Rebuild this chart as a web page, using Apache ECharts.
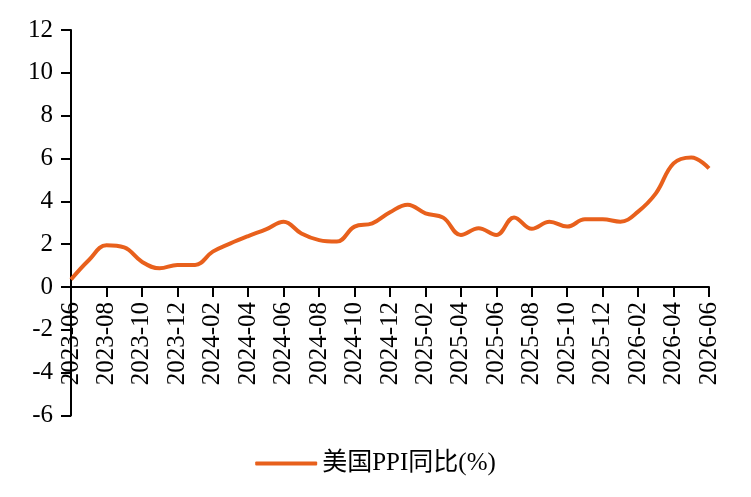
<!DOCTYPE html>
<html lang="zh">
  <head>
    <meta charset="UTF-8" />
    <title>美国PPI同比</title>
    <script src="https://cdn.jsdelivr.net/npm/echarts@6/dist/echarts.min.js"></script>
    <style>
      html,
      body {
        margin: 0;
        padding: 0;
        background: #fff;
      }
      #chart {
        width: 751px;
        height: 497px;
      }
    </style>
  </head>
  <body>
    <div id="chart"></div>
    <script>
      const months = [
        "2023-06", "2023-07", "2023-08", "2023-09", "2023-10", "2023-11", "2023-12",
        "2024-01", "2024-02", "2024-03", "2024-04", "2024-05", "2024-06", "2024-07",
        "2024-08", "2024-09", "2024-10", "2024-11", "2024-12", "2025-01", "2025-02",
        "2025-03", "2025-04", "2025-05", "2025-06", "2025-07", "2025-08", "2025-09",
        "2025-10", "2025-11", "2025-12", "2026-01", "2026-02", "2026-03", "2026-04",
        "2026-05", "2026-06",
      ];
      const ppiYoY = [
        0.35, 1.25, 1.95, 1.85, 1.18, 0.87, 1.03, 1.03, 1.65, 2.04, 2.38, 2.69, 3.05,
        2.5, 2.19, 2.12, 2.82, 2.97, 3.49, 3.84, 3.44, 3.24, 2.43, 2.74, 2.43, 3.25,
        2.72, 3.05, 2.82, 3.16, 3.16, 3.05, 3.52, 4.37, 5.77, 6.05, 5.54,
      ];
      const seriesName = "美国PPI同比(%)";

      const font = "'Liberation Serif', 'Times New Roman', 'Noto Sans CJK SC', serif";
      const chart = echarts.init(document.getElementById("chart"));

      // x 轴画在 0 线上：grid 底部 = -6，0 在上方 6/18 处
      const gridTop = 30;
      const gridBottom = 81.5;
      const plotH = 497 - gridTop - gridBottom;
      const zeroOffset = -(plotH * 6) / 18;

      const option = {
        animation: false,
        textStyle: { fontFamily: font },
        grid: { left: 71, right: 42, top: gridTop, bottom: gridBottom },
        legend: {
          bottom: 16,
          left: "center",
          icon: "roundRect",
          itemWidth: 62,
          itemHeight: 4,
          itemGap: 14,
          textStyle: { fontFamily: font, fontSize: 25, color: "#000" },
          data: [seriesName],
        },
        xAxis: {
          type: "category",
          data: months,
          boundaryGap: false,
          position: "bottom",
          offset: zeroOffset,
          axisLine: { onZero: false, lineStyle: { color: "#000", width: 2 } },
          axisTick: { interval: 1, length: 10, lineStyle: { color: "#000", width: 2 } },
          axisLabel: {
            interval: 1,
            rotate: 90,
            color: "#000",
            fontSize: 25,
            fontFamily: font,
            margin: 15,
          },
          splitLine: { show: false },
        },
        yAxis: {
          type: "value",
          min: -6,
          max: 12,
          interval: 2,
          axisLine: { show: true, lineStyle: { color: "#000", width: 2 } },
          axisTick: { show: true, length: 10, lineStyle: { color: "#000", width: 2 } },
          axisLabel: { color: "#000", fontSize: 25, fontFamily: font, margin: 18 },
          splitLine: { show: false },
        },
        series: [
          {
            name: seriesName,
            type: "line",
            data: ppiYoY,
            smooth: 0.4,
            showSymbol: false,
            symbol: "none",
            lineStyle: { color: "#E8601C", width: 4 },
            itemStyle: { color: "#E8601C" },
          },
        ],
      };
      chart.setOption(option);
    </script>
  </body>
</html>
